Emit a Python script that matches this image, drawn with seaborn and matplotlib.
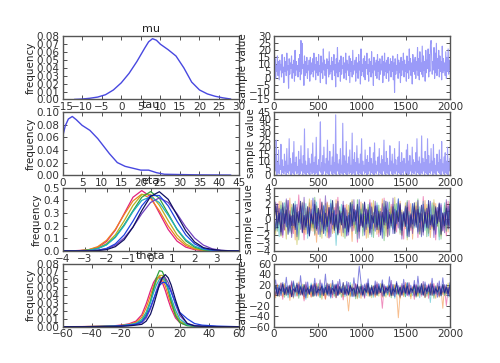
import numpy as np
import pandas as pd
import matplotlib
matplotlib.use('Agg')
import matplotlib.pyplot as plt
import seaborn as sns

# ---- data (posterior densities and traces) ----
mu_x = [-12, -10, -8, -6, -4, -2, 0, 2, 4, 6, 7, 8, 9, 10, 12, 14, 16, 18, 20, 22, 24, 26, 28]
mu_y = [0.0, 0.0005, 0.0015, 0.003, 0.006, 0.012, 0.021, 0.033, 0.048, 0.065, 0.073, 0.077,
        0.075, 0.070, 0.063, 0.055, 0.040, 0.022, 0.012, 0.007, 0.004, 0.002, 0.0005]

tau_x = [0, 0.7, 1.5, 2.5, 3.5, 5, 7, 9, 10, 12, 14, 16, 18, 20, 22, 24, 26, 30, 35, 40, 43]
tau_y = [0.060, 0.078, 0.089, 0.093, 0.088, 0.079, 0.071, 0.058, 0.050, 0.034, 0.020, 0.014,
         0.011, 0.008, 0.008, 0.004, 0.0015, 0.001, 0.0005, 0.0003, 0.0002]

eta_x = [-4.0, -3.6, -3.2, -2.8, -2.4, -2.0, -1.6, -1.2, -0.8, -0.4, 0.0,
         0.4, 0.8, 1.2, 1.6, 2.0, 2.4, 2.8, 3.2, 3.6, 4.0]
eta_dens = [
    [0.0, 0.001, 0.004, 0.010, 0.028, 0.075, 0.165, 0.295, 0.425, 0.478, 0.430, 0.300, 0.170, 0.078, 0.030, 0.010, 0.003, 0.001, 0.0, 0.0, 0.0],
    [0.0003, 0.0007, 0.003, 0.011, 0.034, 0.084, 0.171, 0.288, 0.396, 0.450, 0.417, 0.318, 0.198, 0.102, 0.043, 0.015, 0.004, 0.001, 0.0, 0.0, 0.0],
    [0.0, 0.0005, 0.002, 0.007, 0.022, 0.058, 0.128, 0.238, 0.360, 0.446, 0.448, 0.362, 0.240, 0.128, 0.056, 0.020, 0.006, 0.0015, 0.0005, 0.0, 0.0],
    [0.0, 0.0003, 0.002, 0.006, 0.019, 0.050, 0.112, 0.207, 0.318, 0.425, 0.470, 0.418, 0.296, 0.170, 0.080, 0.030, 0.009, 0.002, 0.0004, 0.0, 0.0],
    [0.0, 0.0003, 0.0013, 0.0054, 0.018, 0.048, 0.107, 0.200, 0.311, 0.400, 0.429, 0.383, 0.283, 0.174, 0.089, 0.038, 0.013, 0.004, 0.001, 0.0002, 0.0],
    [0.0, 0.0, 0.0003, 0.0015, 0.0055, 0.017, 0.046, 0.102, 0.189, 0.295, 0.384, 0.420, 0.384, 0.295, 0.189, 0.102, 0.046, 0.017, 0.0055, 0.0015, 0.0003],
    [0.0, 0.0, 0.0002, 0.0013, 0.0057, 0.020, 0.056, 0.127, 0.236, 0.357, 0.439, 0.439, 0.357, 0.236, 0.127, 0.056, 0.020, 0.0057, 0.0013, 0.0002, 0.0],
    [0.0, 0.0, 0.0001, 0.0005, 0.0025, 0.010, 0.034, 0.089, 0.188, 0.319, 0.432, 0.469, 0.409, 0.285, 0.159, 0.071, 0.026, 0.012, 0.004, 0.001, 0.0],
]

theta_x = [-60, -45, -35, -25, -20, -15, -10, -6, -3, 0, 2, 4, 6, 8, 10, 12, 14, 17, 20, 25, 30, 35, 45, 60]
theta_dens = [
    [0.0, 0.0002, 0.0006, 0.0012, 0.002, 0.0035, 0.007, 0.015, 0.029, 0.046, 0.056, 0.062, 0.062, 0.056, 0.046, 0.034, 0.023, 0.011, 0.005, 0.002, 0.001, 0.0005, 0.0001, 0.0],
    [0.0, 0.0001, 0.0004, 0.001, 0.0017, 0.003, 0.0055, 0.012, 0.024, 0.040, 0.052, 0.060, 0.064, 0.060, 0.052, 0.040, 0.028, 0.014, 0.006, 0.002, 0.0008, 0.0003, 0.0001, 0.0],
    [0.0, 0.0001, 0.0003, 0.0008, 0.0014, 0.0025, 0.0045, 0.009, 0.018, 0.034, 0.047, 0.058, 0.065, 0.065, 0.058, 0.047, 0.034, 0.017, 0.007, 0.002, 0.0008, 0.0003, 0.0001, 0.0],
    [0.0, 0.0001, 0.0002, 0.0006, 0.001, 0.0018, 0.0035, 0.007, 0.015, 0.032, 0.048, 0.062, 0.071, 0.070, 0.061, 0.047, 0.032, 0.014, 0.005, 0.0012, 0.0005, 0.0002, 0.0, 0.0],
    [0.0, 0.0001, 0.0003, 0.0008, 0.0014, 0.0025, 0.004, 0.009, 0.018, 0.031, 0.043, 0.053, 0.060, 0.062, 0.057, 0.048, 0.037, 0.021, 0.0095, 0.0025, 0.001, 0.0004, 0.0001, 0.0],
    [0.0, 0.0, 0.0002, 0.0005, 0.0009, 0.0016, 0.003, 0.005, 0.011, 0.023, 0.034, 0.046, 0.056, 0.062, 0.062, 0.056, 0.046, 0.028, 0.014, 0.004, 0.0015, 0.0006, 0.0001, 0.0],
    [0.0, 0.0, 0.0002, 0.0005, 0.001, 0.002, 0.003, 0.006, 0.013, 0.025, 0.035, 0.044, 0.052, 0.056, 0.056, 0.052, 0.044, 0.030, 0.018, 0.010, 0.004, 0.002, 0.0008, 0.0],
    [0.0, 0.0, 0.0001, 0.0003, 0.0006, 0.001, 0.002, 0.003, 0.007, 0.016, 0.027, 0.040, 0.053, 0.062, 0.066, 0.062, 0.053, 0.034, 0.017, 0.004, 0.001, 0.0004, 0.0001, 0.0],
]

mu_trace = [
    11, 3, 14, 0, 9, 5, 16, 2, 12, -1, 13, 6, 10, 1, 17, 4, 8, -3, 15, 5,
    12, 2, 18, 6, 9, -7, 14, 3, 11, 7, 16, 0, 10, 4, 13, -2, 20, 2, 12, 6,
    9, 1, 14, 5, 17, -1, 27, 3, 25, 7, 10, -5, 16, 2, 12, 4, 15, 0, 9, 6,
    13, -2, 15, 3, 11, 5, 14, 1, 18, 6, 10, -1, 15, 4, 12, 2, 17, 5, 9, -3,
    16, 4, 11, 0, 21, 6, 13, 2, 10, -4, 14, 7, 12, 1, 19, 3, 9, 5, 15, -1,
    12, 6, 17, 2, 10, -6, 14, 4, 22, 1, 11, 5, 13, -2, 16, 3, 9, 7, 15, 0,
    11, 4, 18, -1, 13, 6, 10, 2, 16, -3, 14, 5, 12, 1, 20, 3, 9, 6, 13, -2,
    15, 4, 11, 0, 17, 6, 12, -4, 21, 2, 10, 5, 14, 1, 16, -1, 12, 7, 18, 3,
    10, -2, 14, 5, 12, 1, 19, 4, 9, -5, 15, 6, 11, 2, 13, 0, 17, 5, 12, -1,
    14, 3, 10, 6, 16, -3, 12, 2, 18, 5, 11, 0, 13, 4, 15, -2, 10, 6, 14, 1,
    12, 5, 16, -1, 11, -10, 14, 3, 9, 6, 17, 0, 13, 4, 11, -3, 15, 2, 12, 6,
    18, 1, 13, 5, 10, -2, 16, 4, 12, 0, 21, 6, 14, 2, 11, -4, 17, 5, 13, 3,
    15, 0, 12, 6, 22, 2, 14, -1, 19, 5, 11, 3, 23, 1, 16, 6, 12, -2, 20, 4,
    13, 7, 21, 1, 17, 5, 24, 27, 15, 3, 12, 6, 22, 0, 18, 4, 25, 2, 14, 7,
    20, 1, 16, 5, 12, -1, 23, 4, 14, 6, 11, 2, 19, 0, 15, 5, 21, 3, 13, 6,
]
tau_trace = [
    8, 1, 14, 3, 25, 0, 9, 2, 18, 1, 7, 4, 22, 0, 11, 2, 6, 1, 15, 3,
    10, 0, 19, 2, 7, 1, 26, 3, 12, 0, 8, 2, 16, 1, 24, 0, 9, 3, 13, 1,
    6, 2, 17, 0, 11, 1, 21, 3, 8, 0, 14, 2, 33, 1, 10, 0, 7, 2, 19, 1,
    12, 0, 8, 3, 15, 1, 23, 2, 9, 0, 13, 1, 27, 2, 7, 0, 11, 3, 16, 38,
    2, 9, 0, 14, 1, 20, 3, 8, 0, 12, 2, 25, 1, 10, 0, 17, 3, 7, 1, 13,
    0, 22, 2, 9, 1, 43, 0, 15, 3, 8, 1, 11, 0, 19, 2, 7, 1, 37, 0, 14,
    2, 10, 1, 24, 0, 8, 3, 13, 1, 18, 2, 7, 0, 30, 1, 11, 2, 16, 0, 9,
    3, 21, 1, 12, 0, 8, 2, 15, 1, 26, 0, 10, 3, 7, 1, 18, 2, 11, 0, 14,
    1, 9, 3, 20, 0, 12, 2, 8, 1, 16, 0, 23, 2, 10, 1, 7, 3, 13, 0, 19,
    2, 8, 1, 14, 0, 11, 3, 25, 1, 9, 0, 17, 2, 12, 1, 7, 0, 21, 3, 10,
    1, 15, 0, 8, 2, 19, 1, 11, 3, 7, 0, 13, 2, 24, 1, 9, 0, 16, 2, 10,
    0, 12, 3, 8, 1, 18, 2, 22, 0, 10, 1, 14, 3, 7, 0, 20, 2, 11, 1, 9,
    3, 16, 0, 26, 2, 10, 1, 13, 0, 8, 2, 28, 1, 12, 3, 9, 0, 17, 2, 11,
    1, 26, 0, 14, 2, 8, 1, 19, 3, 10, 0, 22, 2, 12, 1, 7, 0, 15, 3, 9,
    2, 18, 1, 11, 0, 24, 3, 8, 1, 13, 0, 16, 2, 10, 1, 20, 0, 9, 3, 12,
]

eta_trace = [
    [1.2, -1.5, 2.0, -0.6, 0.9, -2.3, 1.6, -0.2, 2.4, -1.1, 0.5, -1.8, 1.9, -0.7, 3.1, -1.3, 0.8, -2.6, 1.4, -0.4,
     2.1, -1.0, 0.6, -2.0, 1.7, -0.5, 2.6, -1.6, 1.0, -0.9, 2.2, -2.4, 0.7, -1.2, 1.5, -0.3, 2.8, -1.7, 0.4, -1.1,
     1.8, -2.1, 0.9, -0.6, 2.3, -1.4, 1.1, -2.9, 0.5, -0.8, 2.0, -1.5, 1.3, -0.2, 2.5, -1.9, 0.8, -1.0, 1.6, -2.2,
     0.6, -1.3, 2.7, -0.7, 1.2, -2.0, 1.9, -0.4, 0.9, -1.6, 2.2, -1.1, 0.3, -2.5, 1.5, -0.6, 2.4, -1.4, 1.0, -0.9,
     1.7, -2.3, 0.8, -1.2, 2.9, -0.5, 1.4, -1.8, 0.6, -1.0, 2.1, -2.6, 1.1, -0.3, 1.8, -1.5, 0.7, -2.1, 2.3, -0.8],
    [-1.0, 1.8, -0.4, 2.3, -2.1, 0.7, -1.4, 1.2, -0.1, 2.7, -1.8, 0.6, -2.6, 1.5, -0.7, 2.0, -1.2, 0.3, -1.9, 1.6,
     -0.8, 2.4, -1.5, 0.9, -2.9, 0.5, -1.0, 2.1, -0.4, 1.3, -2.3, 1.8, -0.6, 1.0, -1.7, 2.5, -0.9, 0.2, -2.1, 1.4,
     -0.3, 1.9, -1.3, 0.7, -2.8, 1.7, -0.5, 1.1, -1.6, 2.2, -1.0, 0.4, -2.4, 1.5, -0.2, 2.1, -1.4, 0.8, -1.9, 1.2,
     -0.6, 2.6, -1.1, 0.5, -2.2, 1.3, -0.8, 1.9, -1.5, 0.9, -0.3, 2.3, -2.0, 0.6, -1.2, 1.7, -0.7, 2.0, -2.5, 1.0,
     -0.4, 1.6, -1.8, 0.8, -1.0, 2.4, -0.6, 1.1, -2.3, 0.4, -1.4, 2.0, -0.9, 1.5, -2.1, 0.7, -0.5, 2.2, -1.6, 1.2],
    [0.8, -1.9, 1.6, -0.4, 2.3, -1.3, 0.2, -2.5, 1.4, -0.7, 1.9, -1.1, 1.0, -3.2, 0.6, -0.3, 2.2, -1.7, 0.9, -0.8,
     2.6, -1.4, 0.4, -2.0, 1.7, -0.5, 1.2, -2.4, 0.7, -1.0, 2.1, -0.2, 1.5, -1.8, 0.5, -1.2, 2.3, -0.6, 1.0, -2.2,
     0.8, -1.5, 1.8, -0.1, 2.5, -1.1, 0.3, -1.9, 1.3, -0.7, 1.9, -1.6, 0.6, -2.3, 1.1, -0.4, 2.4, -1.0, 0.5, -1.7,
     1.4, -0.9, 2.0, -2.1, 0.7, -0.5, 1.6, -1.3, 2.8, -0.8, 0.9, -1.9, 1.2, -0.3, 2.1, -2.6, 0.4, -1.1, 1.7, -0.6,
     2.2, -1.4, 0.8, -2.0, 1.5, -0.2, 1.9, -1.7, 0.6, -1.2, 2.5, -0.7, 1.0, -2.2, 0.3, -0.9, 1.8, -1.5, 1.1, -0.4],
    [-0.6, 2.0, -1.5, 0.7, -2.1, 1.5, -0.2, 2.4, -1.0, 0.4, -1.8, 1.9, -0.8, 1.2, -2.6, 0.8, -0.4, 2.1, -1.3, 1.0,
     -1.9, 0.3, -1.1, 2.8, -0.5, 1.4, -2.2, 0.6, -0.9, 2.0, -1.6, 0.8, -0.3, 2.3, -1.2, 0.5, -2.0, 1.6, -0.7, 1.1,
     -2.4, 0.4, -1.4, 2.1, -0.6, 0.9, -1.8, 2.5, -0.4, 1.3, -2.1, 0.7, -1.1, 1.9, -0.8, 1.5, -2.3, 0.5, -0.9, 1.8,
     -1.3, 0.6, -2.7, 1.4, -0.5, 2.2, -1.0, 0.8, -1.7, 2.0, -0.2, 1.1, -2.0, 0.9, -0.6, 2.4, -1.5, 0.3, -1.2, 1.7,
     -0.7, 2.6, -1.9, 0.6, -1.0, 1.3, -2.2, 0.8, -0.4, 2.1, -1.4, 1.0, -0.8, 1.9, -2.5, 0.5, -1.1, 1.6, -0.3, 2.2],
    [1.1, -1.4, 0.5, -2.2, 1.8, -0.6, 2.1, -1.0, 0.8, -1.7, 1.5, -0.4, 2.3, -1.9, 0.3, -1.2, 1.7, -0.7, 2.0, -2.4,
     0.9, -0.5, 1.4, -1.8, 2.2, -0.8, 0.6, -1.5, 1.8, -2.1, 0.4, -0.9, 2.5, -0.6, 1.2, -3.3, 0.7, -1.3, 1.9, -0.5,
     1.5, -1.9, 0.8, -1.1, 2.2, -0.7, 1.0, -2.5, 1.6, -0.3, 2.0, -1.4, 0.5, -1.0, 1.7, -2.2, 0.9, -0.6, 2.1, -1.3,
     0.4, -1.6, 2.4, -0.8, 1.1, -2.0, 0.7, -1.2, 1.9, -0.4, 2.6, -1.7, 0.6, -0.9, 1.4, -2.3, 1.0, -0.5, 2.0, -1.1,
     0.8, -1.8, 1.6, -0.2, 2.3, -1.4, 0.5, -2.1, 1.2, -0.7, 1.8, -1.0, 0.3, -2.6, 1.5, -0.6, 2.1, -1.5, 0.9, -0.8],
    [-0.9, 2.2, -0.4, 1.4, -1.9, 0.8, -1.3, 2.6, -0.7, 1.1, -2.3, 0.5, -1.0, 1.9, -0.2, 1.7, -1.6, 2.8, -0.8, 0.6,
     -2.1, 1.3, -0.5, 2.4, -1.4, 0.9, -1.9, 0.4, -1.2, 3.0, -0.6, 1.5, -2.2, 0.8, -0.9, 2.0, -1.7, 0.7, -0.4, 2.3,
     -1.1, 1.2, -2.0, 0.6, -1.5, 2.5, -0.7, 1.0, -2.4, 0.5, -0.9, 2.1, -1.3, 0.8, -1.9, 1.6, -0.5, 2.3, -1.0, 0.7,
     -1.6, 2.0, -0.3, 1.3, -2.2, 0.9, -0.8, 2.7, -1.4, 0.4, -1.1, 1.8, -2.5, 1.0, -0.6, 2.2, -1.2, 0.5, -1.8, 1.5,
     -0.4, 2.4, -1.5, 0.7, -2.0, 1.1, -0.9, 1.9, -1.3, 0.6, -2.3, 1.4, -0.5, 2.1, -1.0, 0.8, -1.7, 2.5, -0.7, 1.2],
    [0.5, -1.2, 1.9, -0.3, 1.3, -2.0, 0.7, -0.9, 2.4, -1.5, 0.4, -0.8, 1.8, -2.2, 1.0, -0.5, 2.1, -1.3, 0.6, -1.8,
     1.5, -0.2, 2.7, -1.1, 0.8, -1.9, 1.2, -0.6, 1.7, -1.4, 0.3, -2.3, 2.0, -0.7, 1.1, -1.0, 2.3, -0.4, 0.8, -1.7,
     1.4, -2.1, 0.5, -0.9, 1.9, -0.3, 1.2, -1.6, 2.5, -0.8, 0.7, -2.0, 1.3, -0.5, 2.1, -1.2, 0.4, -1.5, 1.8, -0.7,
     1.0, -2.4, 1.6, -0.4, 2.2, -1.1, 0.6, -1.8, 1.3, -0.6, 2.6, -1.3, 0.9, -0.2, 1.7, -2.1, 0.5, -1.0, 2.0, -0.8,
     1.2, -1.6, 0.8, -2.2, 1.9, -0.5, 1.4, -1.1, 2.3, -0.9, 0.6, -1.9, 1.5, -0.3, 2.0, -1.4, 0.9, -0.7, 1.7, -1.2],
    [-0.3, 1.7, -1.1, 0.8, -1.6, 2.1, -0.5, 1.2, -1.9, 0.6, -0.8, 2.0, -1.3, 0.9, -0.4, 2.3, -1.7, 0.5, -1.0, 1.6,
     -2.1, 0.7, -0.6, 1.9, -1.2, 1.4, -0.3, 2.2, -1.8, 0.8, -0.9, 1.5, -0.5, 2.4, -1.4, 0.6, -1.9, 1.1, -0.7, 1.8,
     -1.1, 0.4, -1.6, 2.1, -0.8, 1.3, -0.2, 1.9, -1.5, 0.7, -1.0, 2.2, -0.6, 1.2, -1.7, 0.5, -0.4, 1.7, -1.3, 1.0,
     -2.0, 0.9, -0.7, 2.3, -1.2, 0.6, -0.5, 1.6, -1.8, 1.1, -0.3, 2.0, -1.4, 0.8, -0.9, 1.5, -2.2, 0.7, -0.6, 2.1,
     -1.0, 1.3, -0.4, 1.8, -1.6, 0.9, -1.1, 2.4, -0.7, 0.5, -1.3, 1.6, -0.5, 2.0, -1.9, 0.8, -0.8, 1.4, -1.2, 1.9],
]

theta_trace = [
    [17, -1, 21, 4, 13, -8, 19, 2, 11, -4, 24, 7, 14, -2, 18, 0, 12, -11, 20, 5,
     10, -3, 16, 1, 23, 0, 15, 6, 9, -7, 19, 3, 12, -5, 17, -1, 21, 4, 11, -9,
     15, 2, 18, -1, 13, 5, 22, -4, 10, 1, 16, -6, 19, 3, 14, 0, 12, -2, 20, 5,
     11, -25, 17, 4, 13, -3, 21, 1, 15, 6, 10, -5, 18, 2, 24, -1, 12, 7, 16, -8,
     20, 3, 11, -2, 14, 5, 19, -6, 13, 0, 22, 4, 10, -3, 17, 1, 15, -20, 12, 6],
    [9, -5, 18, 2, 23, -3, 12, 5, 16, -10, 20, 1, 11, -1, 25, 4, 13, -7, 17, 0,
     10, -4, 21, 6, 14, -2, 19, -1, 11, -8, 15, 3, 22, 0, 12, -5, 18, 1, 10, -3,
     14, 4, -30, 7, 16, -1, 20, 2, 11, -6, 15, 5, 19, -2, 13, 0, 17, -4, 21, 3,
     9, -4, 15, 6, 18, -1, 12, 3, 20, 5, -43, 2, 11, -3, 16, 4, 22, -7, 13, 1,
     17, -2, 10, 5, 19, -4, 14, 0, 23, 3, 11, -6, 16, 2, 12, -25, 18, 4, 15, -1],
    [14, 1, 19, -3, 11, 6, 22, -1, 16, 2, 10, -6, 18, 4, 13, 0, 21, 1, 9, -5,
     17, 3, 12, -2, 20, 5, 15, -8, 11, 0, 23, -1, 14, 4, 18, -4, 10, 2, 16, 0,
     19, 5, 13, -3, 21, -1, 12, -7, 17, 2, 11, -1, 20, 4, 15, -5, 18, 1, 13, -2,
     22, 3, 10, -4, 16, 6, 14, -1, 19, 2, 12, -6, 17, 0, 21, 4, 11, -3, 15, 5,
     13, -2, 18, 1, 20, -5, 12, 3, 16, -1, 14, 6, 19, -4, 11, 2, 17, 0, 23, -3],
    [7, 19, -2, 14, 3, 21, -4, 12, 1, 17, 0, 24, 5, 10, -6, 16, 2, 20, -1, 13,
     4, 18, -3, 11, 0, 22, -5, 15, 3, 19, 0, 12, 6, 23, -2, 14, 1, 17, -4, 10,
     5, 20, -1, 16, -1, 13, -7, 18, 3, 21, 0, 11, 4, 15, -3, 19, 2, 12, -1, 17,
     6, 22, -2, 13, 1, 16, -5, 20, 3, 11, 0, 18, 4, 14, -3, 24, 1, 12, 5, 17,
     -4, 19, 2, 13, 0, 21, -2, 15, 4, 10, -6, 18, 1, 16, 3, 20, -1, 12, 6, 14],
    [-3, 16, 5, 20, 0, 13, 2, 18, -5, 11, 7, 22, -2, 15, 0, 19, 4, 12, -8, 17,
     1, 23, -1, 14, 6, 10, -4, 20, 3, 16, 1, 13, -6, 18, 2, 21, 0, 12, 5, 17,
     -3, 15, 1, 24, -2, 11, 4, 19, -5, 14, 0, 18, -1, 22, 3, 13, -4, 16, 2, 20,
     6, 12, -2, 17, 0, 21, 3, 14, -6, 19, 1, 11, 5, 16, -3, 23, 2, 13, -1, 18,
     4, 15, -5, 20, 1, 12, 3, 17, -14, 22, 0, 14, 5, 11, -2, 19, 2, 16, -4, 21],
    [20, 1, 15, -2, 23, 6, 12, 0, 18, 3, 27, -4, 14, 5, 21, 1, 16, -3, 25, 2,
     11, 7, 19, -1, 17, 4, 29, 0, 13, 5, 22, -2, 15, 1, 20, -5, 26, 3, 12, 1,
     18, -1, 24, 6, 14, -3, 21, 2, 16, 0, 19, -4, 23, 5, 13, 0, 17, 1, 25, 3,
     12, -2, 20, 4, 15, 6, 28, -1, 13, 2, 18, -3, 22, 5, 14, 0, 24, 3, 11, -2,
     19, 4, 16, 1, 26, -4, 14, 6, 21, 0, 17, 2, 23, -1, 12, 5, 20, 3, 15, -3],
    [11, 29, 1, 18, -1, 24, 4, 34, 1, 15, -3, 27, 6, 19, 0, 37, 3, 13, -5, 25,
     2, 20, 7, 32, -2, 16, 1, 23, 5, 40, 0, 17, -4, 28, 3, 21, -1, 30, 6, 14,
     1, 26, 2, 19, -3, 33, 4, 16, 55, 24, -2, 21, 5, 31, 1, 18, 0, 27, 3, 22,
     8, 29, -1, 17, 4, 35, 2, 20, -3, 26, 6, 15, 0, 30, 3, 23, -2, 19, 5, 28,
     1, 36, 4, 17, -1, 25, 3, 21, 7, 32, 0, 16, -4, 27, 2, 33, 5, 20, -1, 24],
    [4, 17, -1, 13, 8, 21, 1, 15, 5, 19, -3, 12, 7, 23, 3, 16, 0, 20, 6, 14,
     2, 18, -2, 22, 4, 11, 9, 17, -1, 15, 3, 21, 2, 13, 7, 19, 0, 16, 5, 24,
     2, 12, 1, 18, 8, 14, -2, 20, 4, 17, 1, 13, 6, 22, -1, 15, 3, 19, 0, 16,
     5, 21, 2, 14, 9, 18, -1, 12, 6, 23, 3, 15, 0, 19, 4, 17, 2, 13, 8, 20,
     -2, 16, 5, 22, 1, 14, 7, 18, 0, 21, 3, 12, 6, 17, -1, 20, 4, 15, 2, 18],
]

n_iter = 2000
chain_colors = ['#e0207f', '#f07f20', '#b8b020', '#30a040', '#20b0c0', '#7040c0', '#2040e0', '#101060']
trace_colors = ['#e0207f', '#f07f20', '#b8b020', '#30a040', '#20b0c0', '#6030b0', '#3030c8', '#1a1a80']
trace_alpha = [0.5, 0.5, 0.5, 0.5, 0.5, 0.6, 0.6, 0.75]

sns.set_style('white')
plt.rcParams.update({
    'font.family': ['DejaVu Sans'],
    'font.size': 7,
    'xtick.direction': 'in', 'ytick.direction': 'in',
    'xtick.top': True, 'ytick.right': True,
    'xtick.bottom': True, 'ytick.left': True,
    'xtick.major.size': 3, 'ytick.major.size': 3,
    'xtick.major.width': 0.6, 'ytick.major.width': 0.6,
    'xtick.color': '#333333', 'ytick.color': '#333333',
    'xtick.labelsize': 7.5, 'ytick.labelsize': 7.5,
    'xtick.major.pad': 2, 'ytick.major.pad': 2,
    'axes.edgecolor': '#555555', 'axes.linewidth': 1.0,
    'axes.titlesize': 8, 'axes.labelsize': 7.5,
    'text.color': '#222222', 'axes.labelcolor': '#222222',
})

fig, axes = plt.subplots(4, 2, figsize=(5, 3.63), dpi=100)


def iters(vals):
    return np.linspace(0, n_iter - 1, len(vals))


def style(ax, xlim, xstep, ylim, ystep, fmt=None):
    ax.set_xlim(*xlim)
    ax.set_ylim(*ylim)
    ax.set_xticks(np.arange(xlim[0], xlim[1] + xstep / 2, xstep))
    yt = np.arange(ylim[0], ylim[1] + ystep / 2, ystep)
    ax.set_yticks(yt)
    if fmt:
        ax.set_yticklabels([fmt.format(v) for v in yt])


# mu
ax = axes[0, 0]
sns.lineplot(x=mu_x, y=mu_y, ax=ax, color='#4848e0', lw=1.0, sort=False)
style(ax, (-15, 30), 5, (0, 0.08), 0.01, '{:.2f}')
ax.set_title('mu', pad=3)
ax.set_ylabel('frequency', labelpad=1)

ax = axes[0, 1]
sns.lineplot(x=iters(mu_trace), y=mu_trace, ax=ax, color='#9a9af8', lw=0.8, sort=False)
style(ax, (0, 2000), 500, (-15, 30), 5)
ax.set_ylabel('sample value', labelpad=1)

# tau
ax = axes[1, 0]
sns.lineplot(x=tau_x, y=tau_y, ax=ax, color='#4848e0', lw=1.0, sort=False)
style(ax, (0, 45), 5, (0, 0.10), 0.02, '{:.2f}')
ax.set_title('tau', pad=3)
ax.set_ylabel('frequency', labelpad=1)

ax = axes[1, 1]
sns.lineplot(x=iters(tau_trace), y=tau_trace, ax=ax, color='#a0a0f8', lw=0.8, sort=False)
style(ax, (0, 2000), 500, (0, 45), 5)
ax.set_ylabel('sample value', labelpad=1)

# eta
ax = axes[2, 0]
for dens, c in zip(eta_dens, chain_colors):
    sns.lineplot(x=eta_x, y=dens, ax=ax, color=c, lw=0.9, sort=False)
style(ax, (-4, 4), 1, (0, 0.5), 0.1, '{:.1f}')
ax.set_title('eta', pad=3)
ax.set_ylabel('frequency', labelpad=1)

ax = axes[2, 1]
for tr, c, a in zip(eta_trace, trace_colors, trace_alpha):
    sns.lineplot(x=iters(tr), y=tr, ax=ax, color=c, lw=0.7, alpha=a, sort=False)
style(ax, (0, 2000), 500, (-4, 4), 1)
ax.set_ylabel('sample value', labelpad=1)

# theta
ax = axes[3, 0]
for dens, c in zip(theta_dens, chain_colors):
    sns.lineplot(x=theta_x, y=dens, ax=ax, color=c, lw=0.9, sort=False)
style(ax, (-60, 60), 20, (0, 0.08), 0.01, '{:.2f}')
ax.set_title('theta', pad=3)
ax.set_ylabel('frequency', labelpad=1)

ax = axes[3, 1]
for tr, c, a in zip(theta_trace, trace_colors, trace_alpha):
    sns.lineplot(x=iters(tr), y=tr, ax=ax, color=c, lw=0.7, alpha=a, sort=False)
style(ax, (0, 2000), 500, (-60, 60), 20)
ax.set_ylabel('sample value', labelpad=1)

for ax in axes.flat:
    ax.set_xlabel('')
    for s in ax.spines.values():
        s.set_visible(True)

fig.subplots_adjust(left=0.125, right=0.9, bottom=0.1, top=0.9, wspace=0.2, hspace=0.2)
fig.savefig('out.png', dpi=100)
